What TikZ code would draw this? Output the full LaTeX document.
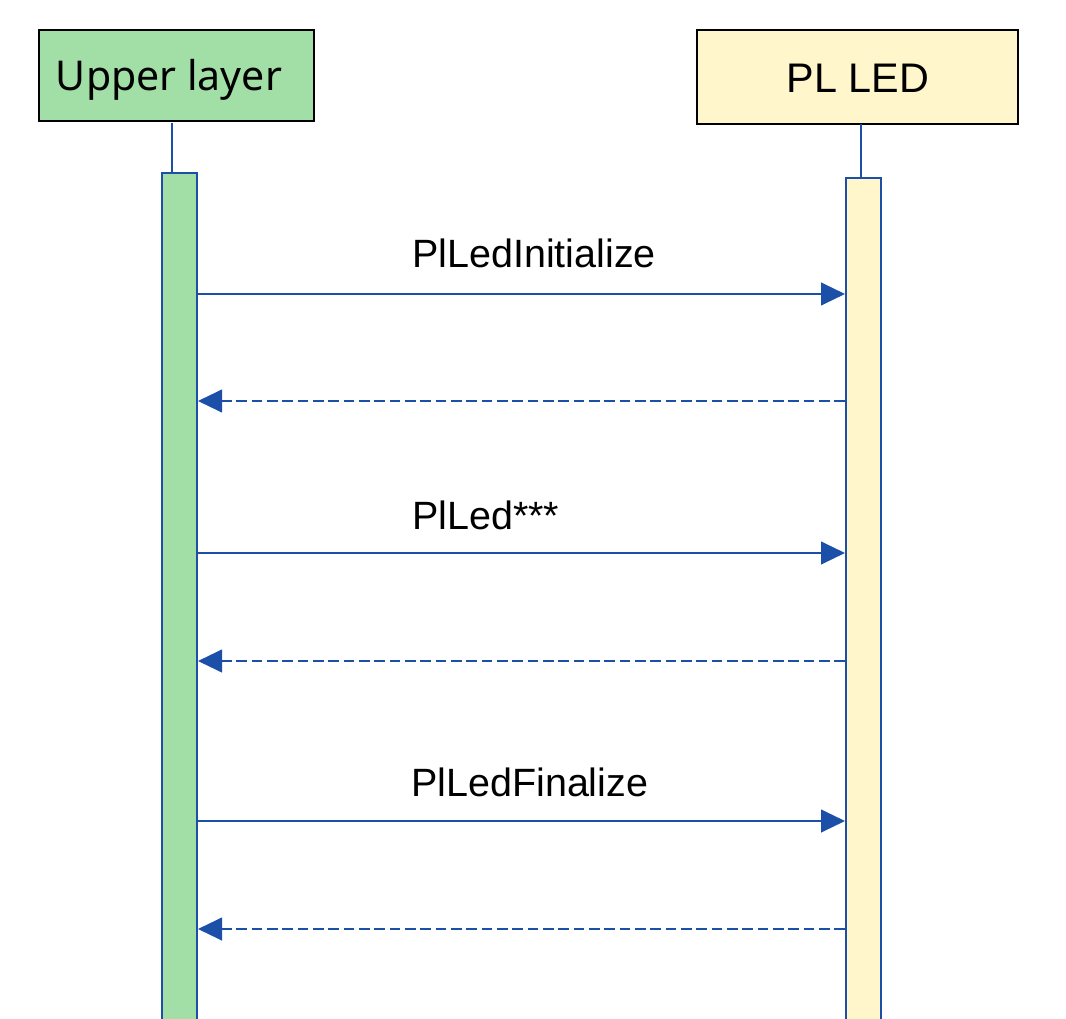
\documentclass[tikz,border=0pt]{standalone}
\usepackage{fontspec}
\setmainfont{Liberation Sans}
\newfontfamily\notofont{Noto Sans}
\usetikzlibrary{arrows.meta}
\definecolor{lineblue}{HTML}{1B4FA8}
\definecolor{boxgreen}{HTML}{A2DFA6}
\definecolor{boxyellow}{HTML}{FFF6CB}
\begin{document}
\begin{tikzpicture}[x=0.75pt,y=-0.75pt,
  headbox/.style={draw=black,line width=1.6pt,inner sep=0pt},
  bar/.style={draw=lineblue,line width=1.5pt,inner sep=0pt,minimum width=26.25pt},
  life/.style={draw=lineblue,line width=1.3pt},
  msg/.style={draw=lineblue,line width=1.6pt,-{Triangle[length=18pt,width=17pt]},color=lineblue},
  ret/.style={msg,dash pattern=on 8pt off 3.5pt},
  lbl/.style={inner sep=0pt,font=\fontsize{29.6}{34}\selectfont,anchor=base west},
  htext/.style={inner sep=0pt,anchor=base}]
\useasboundingbox (0,0) rectangle (1066,1019);
\clip (0,0) rectangle (1066,1019);
% heads
\node[headbox,fill=boxgreen,minimum width=206.25pt,minimum height=68.25pt] (ub) at (176.5,75.5) {};
\node[htext,font=\notofont\fontsize{30.8}{36}\selectfont] (ut) at (169,91) {Upper layer};
\node[headbox,fill=boxyellow,minimum width=240.75pt,minimum height=70.5pt] (pb) at (857.5,77) {};
\node[htext,font=\fontsize{31}{36}\selectfont] (pt) at (858,93) {PL LED};
% activation bars
\node[bar,fill=boxgreen,minimum height=642.75pt] (ubar) at (179.5,601.5) {};
\node[bar,fill=boxyellow,minimum height=639pt] (pbar) at (863.5,604) {};
% lifelines
\coordinate (l1) at (172,123);
\coordinate (l2) at (861,124);
\draw[life] (l1) -- (l1 |- ubar.north);
\draw[life] (l2) -- (l2 |- pbar.north);
% messages
\draw[msg] (ubar.east |- 0,294) -- (pbar.west |- 0,294);
\draw[ret] (pbar.west |- 0,401) -- (ubar.east |- 0,401);
\draw[msg] (ubar.east |- 0,553) -- (pbar.west |- 0,553);
\draw[ret] (pbar.west |- 0,661) -- (ubar.east |- 0,661);
\draw[msg] (ubar.east |- 0,821) -- (pbar.west |- 0,821);
\draw[ret] (pbar.west |- 0,929) -- (ubar.east |- 0,929);
% labels
\node[lbl] (m1) at (412,268) {PlLedInitialize};
\node[lbl] (m2) at (412,529) {PlLed***};
\node[lbl] (m3) at (411,796) {PlLedFinalize};
\end{tikzpicture}
\end{document}
